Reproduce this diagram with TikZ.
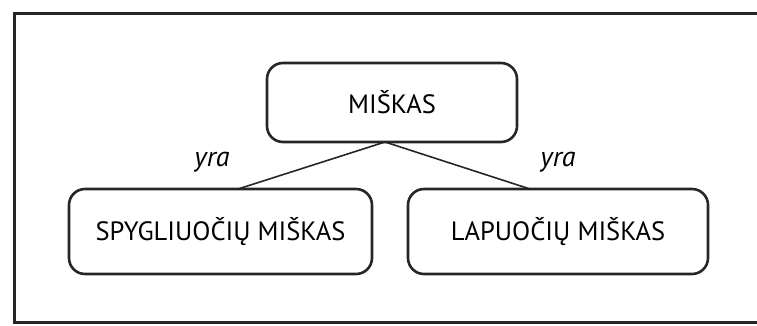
\documentclass[tikz,border=0pt]{standalone}
\usepackage{fontspec}
\setmainfont{PT Sans}
\begin{document}
\begin{tikzpicture}[x=1pt,y=-1pt,
  concept/.style={draw=black!85,line width=2.6pt,rounded corners=16pt,align=center,font=\fontsize{26.5}{30}\selectfont},
  link/.style={draw=black!85,line width=1.6pt},
  rel/.style={font=\fontsize{28}{32}\selectfont\itshape}]
\useasboundingbox (0,0) rectangle (757,325);
\draw[line width=3pt,black!85] (757,13.5) -- (14.5,13.5) -- (14.5,322) -- (757,322);
\node[concept,minimum width=250pt,minimum height=79pt] (m) at (392,102.5) {MIŠKAS};
\node[concept,minimum width=303pt,minimum height=85pt] (s) at (220.5,231.5) {SPYGLIUOČIŲ MIŠKAS};
\node[concept,minimum width=300pt,minimum height=85pt] (l) at (558,231.5) {LAPUOČIŲ MIŠKAS};
\coordinate (mb) at (385,142);
\draw[link] (mb) -- (238,189) coordinate (sa);
\draw[link] (mb) -- (530,189) coordinate (la);
\node[rel] (y1) at (212,162) {yra};
\node[rel] (y2) at (558,162) {yra};
\end{tikzpicture}
\end{document}
